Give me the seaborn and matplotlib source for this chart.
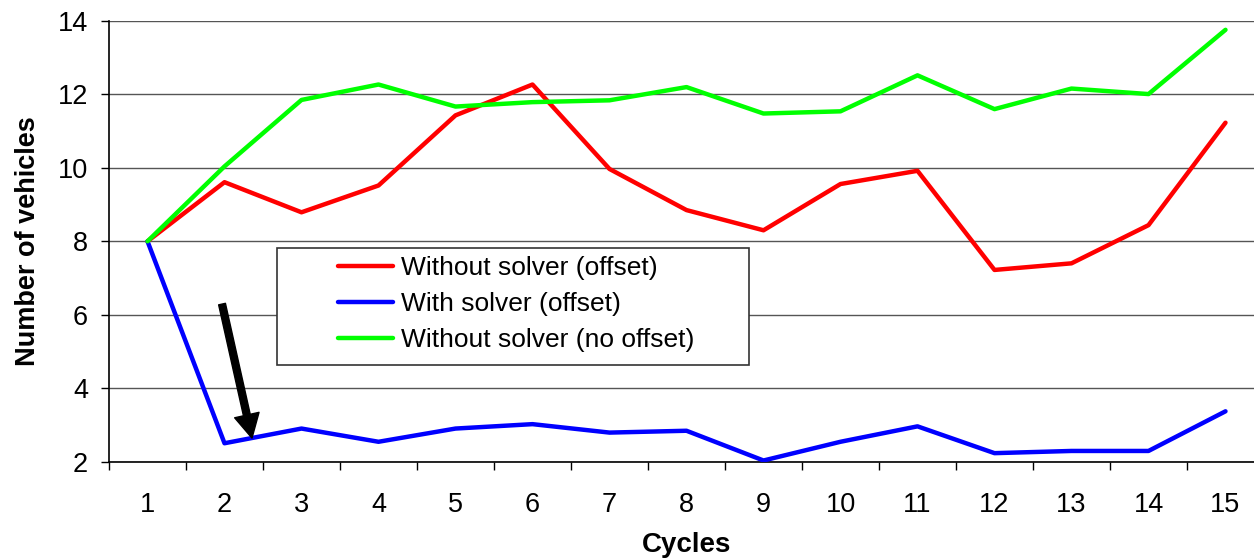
import numpy as np
import pandas as pd
import matplotlib
matplotlib.use("Agg")
import matplotlib.pyplot as plt
from matplotlib.patches import Rectangle
from matplotlib.transforms import IdentityTransform
import seaborn as sns

cycles = list(range(1, 16))
without_solver_offset = [8.0, 9.61, 8.79, 9.52, 11.43, 12.27, 9.97, 8.85, 8.30, 9.56, 9.92, 7.22, 7.40, 8.44, 11.23]
with_solver_offset = [8.0, 2.50, 2.90, 2.54, 2.90, 3.02, 2.79, 2.84, 2.03, 2.54, 2.96, 2.23, 2.29, 2.29, 3.37]
without_solver_no_offset = [8.0, 10.04, 11.85, 12.27, 11.67, 11.79, 11.84, 12.20, 11.48, 11.54, 12.52, 11.60, 12.16, 12.01, 13.76]
series_names = ["Without solver (offset)", "With solver (offset)", "Without solver (no offset)"]
series_colors = ["#FF0000", "#0000FF", "#00FF00"]
y_ticks = [2, 4, 6, 8, 10, 12, 14]
arrow_tail = (1.968, 6.29)
arrow_tip = (2.357, 2.64)

df = pd.concat([
    pd.DataFrame({"Cycles": cycles, "value": vals, "series": name})
    for name, vals in zip(series_names, [without_solver_offset, with_solver_offset, without_solver_no_offset])
])

sns.set_style("white")
plt.rcParams["font.family"] = ["Liberation Sans", "DejaVu Sans"]
plt.rcParams["text.color"] = "black"
plt.rcParams["axes.labelcolor"] = "black"
plt.rcParams["xtick.color"] = "black"
plt.rcParams["ytick.color"] = "black"

W, H = 1254, 558
fig = plt.figure(figsize=(W / 100, H / 100), dpi=100)
ax_top, ax_bot = 21, 461.6
ax = fig.add_axes([109 / W, (H - ax_bot) / H, 1155 / W, (ax_bot - ax_top) / H])

sns.lineplot(data=df, x="Cycles", y="value", hue="series", hue_order=series_names,
             palette=series_colors, linewidth=3.2, ax=ax, legend=True, zorder=3)

ax.set_xlim(0.5, 15.5)
ax.set_ylim(2, 14)
ax.set_yticks(y_ticks)
ax.set_yticklabels([str(t) for t in y_ticks], fontsize=19.5)
ax.set_xticks([c - 0.5 for c in cycles] + [15.5])
ax.set_xticklabels([])
ax.set_xticks(cycles, minor=True)
ax.set_xticklabels([str(c) for c in cycles], minor=True, fontsize=19.5)
ax.tick_params(axis="x", which="major", direction="out", length=6, width=1, color="black", bottom=True)
ax.tick_params(axis="x", which="minor", length=0, pad=22)
ax.tick_params(axis="y", direction="out", length=6, width=1, color="black", pad=9, left=True)

for t in y_ticks:
    ax.axhline(t, color="#555555", lw=1, zorder=1)

for s in ["top", "right"]:
    ax.spines[s].set_visible(False)
for s in ["left", "bottom"]:
    ax.spines[s].set_color("black")
    ax.spines[s].set_linewidth(1.2)

ax.set_xlabel("Cycles", fontsize=20, fontweight="bold", labelpad=10)
ax.set_ylabel("Number of vehicles", fontsize=19.5, fontweight="bold", labelpad=12)

ax.annotate("", xy=arrow_tip, xytext=arrow_tail,
            arrowprops=dict(facecolor="black", edgecolor="black", width=5, headwidth=18,
                            headlength=17, shrink=0), zorder=4)

# legend frame
ax.add_patch(Rectangle((277, H - 365), 749 - 277, 365 - 248, transform=IdentityTransform(),
                       facecolor="white", edgecolor="#333333", lw=1.2, zorder=5, clip_on=False))
leg = ax.legend(loc="upper left", bbox_to_anchor=(338 / W, (H - 256) / H),
                bbox_transform=fig.transFigure, frameon=False,
                fontsize=19, handlelength=2.1, handletextpad=0.27, labelspacing=0.45,
                borderpad=0, borderaxespad=0)
for line in leg.get_lines():
    line.set_linewidth(3.2)
leg.set_zorder(6)

fig.savefig("out.png", dpi=100)
